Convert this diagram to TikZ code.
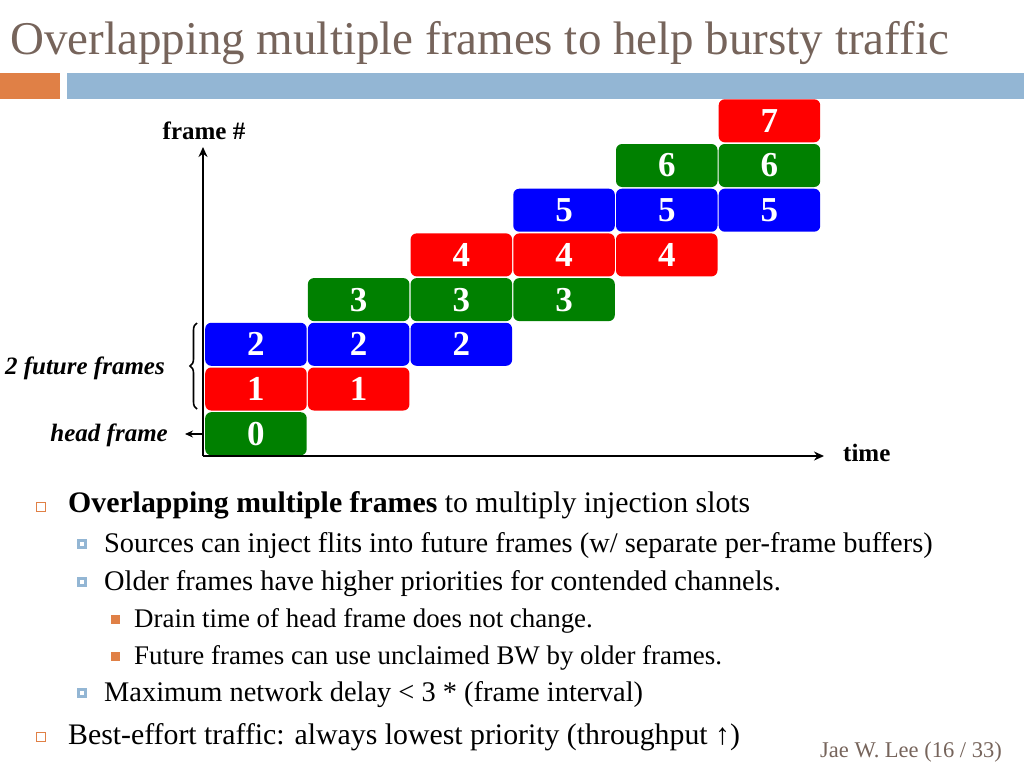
\documentclass[tikz,border=0pt]{standalone}
\usepackage{fontspec}
\setmainfont{Liberation Serif}
\usetikzlibrary{arrows.meta,decorations.pathreplacing}
\definecolor{titlecol}{RGB}{118,100,91}
\definecolor{barorange}{RGB}{224,128,70}
\definecolor{barblue}{RGB}{147,182,212}
\definecolor{fgreen}{RGB}{0,128,0}
\definecolor{fred}{RGB}{255,0,0}
\definecolor{fblue}{RGB}{0,0,255}
\definecolor{footcol}{RGB}{118,100,91}
\tikzset{
  fbox/.style={rounded corners=6pt, minimum width=101.5pt, minimum height=43pt, anchor=north west,
    inner sep=0pt, text=white, font=\fontsize{35}{35}\selectfont\bfseries},
  axis/.style={line width=2.6pt, -{Stealth[length=10pt,width=9pt]}},
  lab/.style={font=\fontsize{25}{25}\selectfont\bfseries, inner sep=0pt},
  ilab/.style={font=\fontsize{25}{25}\selectfont\bfseries\itshape, inner sep=0pt},
  bodyA/.style={anchor=base west, inner sep=0pt, font=\fontsize{29.8}{30}\selectfont},
  bodyB/.style={anchor=base west, inner sep=0pt, font=\fontsize{28.4}{29}\selectfont},
  bodyC/.style={anchor=base west, inner sep=0pt, font=\fontsize{26.9}{27}\selectfont},
}
\begin{document}
\begin{tikzpicture}[x=1pt,y=-1pt]
\useasboundingbox (0,0) rectangle (1024,768);
% title
\node[anchor=base west, inner sep=0pt, text=titlecol, font=\fontsize{47}{47}\selectfont] (title) at (10,55) {Overlapping multiple frames to help bursty traffic};
\fill[barorange] (0,73) rectangle (60,99);
\fill[barblue] (67,73) rectangle (1024,99);
% frames
\foreach \k/\c/\col in {0/0/fgreen, 1/0/fred, 1/1/fred, 2/0/fblue, 2/1/fblue, 2/2/fblue,
   3/1/fgreen, 3/2/fgreen, 3/3/fgreen, 4/2/fred, 4/3/fred, 4/4/fred,
   5/3/fblue, 5/4/fblue, 5/5/fblue, 6/4/fgreen, 6/5/fgreen, 7/5/fred} {
  \node[fbox, fill=\col] (f\k c\c) at ({205+102.7*\c},{412-44.7*\k}) {\k};
}
% axes
\coordinate (O) at (203,456);
\coordinate (ytip) at (203,147);
\coordinate (xtip) at (824,456);
\draw[axis] (O) -- (ytip);
\draw[axis] (O) -- (xtip);
\node[lab] (fy) at (204,131) {frame \#};
\node[lab, anchor=north west] (tx) at (843,444) {time};
% brace
\coordinate (bb) at (197,409);
\coordinate (bt) at (197,323);
\draw[line width=1.6pt, decoration={brace, amplitude=7pt}, decorate] (bb) -- (bt);
\node[ilab, anchor=east] (ff) at (165,368) {2 future frames};
\node[ilab, anchor=east] (hf) at (168,435) {head frame};
\coordinate (ha) at (203,434);
\draw[line width=2pt, -{Stealth[length=8pt,width=7pt]}] (ha) -- ([xshift=17pt]hf.east |- ha);
% bullets
\draw[barorange, line width=0.8pt] (36,502) rectangle (45,511);
\node[bodyA] (b1) at (68,512) {\textbf{Overlapping multiple frames} to multiply injection slots};
\fill[barblue] (77,539) rectangle (87,549); \fill[white] (80,542) rectangle (84,546);
\node[bodyB] (b2) at (104,552) {Sources can inject flits into future frames (w/ separate per-frame buffers)};
\fill[barblue] (77,577) rectangle (87,587); \fill[white] (80,580) rectangle (84,584);
\node[bodyB] (b3) at (104,590) {Older frames have higher priorities for contended channels.};
\fill[barorange] (111,615) rectangle (120,624);
\node[bodyC] (b4) at (134,627) {Drain time of head frame does not change.};
\fill[barorange] (111,652) rectangle (120,661);
\node[bodyC] (b5) at (134,664) {Future frames can use unclaimed BW by older frames.};
\fill[barblue] (77,688) rectangle (87,698); \fill[white] (80,691) rectangle (84,695);
\node[bodyB] (b6) at (104,701) {Maximum network delay < 3 * (frame interval)};
\draw[barorange, line width=0.8pt] (36,732) rectangle (45,741);
\node[bodyA] (b7) at (68,744) {Best-effort traffic: always lowest priority (throughput ↑)};
\node[anchor=base west, inner sep=0pt, text=footcol, font=\fontsize{22.5}{23}\selectfont] (foot) at (820,757) {Jae W. Lee (16 / 33)};
\end{tikzpicture}
\end{document}
